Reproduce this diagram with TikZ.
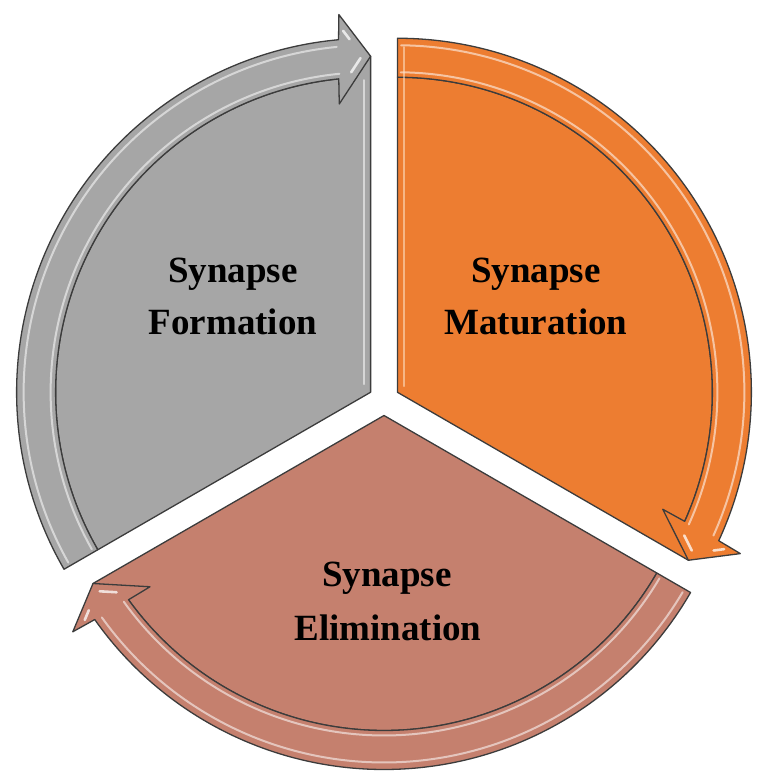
\documentclass[tikz,border=0pt]{standalone}
\usepackage{fontspec}
\setmainfont{Liberation Serif}
\usetikzlibrary{calc}
\definecolor{cgray}{HTML}{A6A6A6}
\definecolor{corange}{HTML}{ED7D31}
\definecolor{cpink}{HTML}{C5806E}
\definecolor{cedge}{HTML}{3C3C3C}
\tikzset{
  piece/.style={draw=cedge, line width=1.3pt, line join=round},
  gloss/.style={draw=white, line width=2pt, opacity=0.55, line cap=round},
  glint/.style={draw=white, line width=2.6pt, opacity=0.75, line cap=round},
  labeltext/.style={font=\fontsize{37}{44}\selectfont\bfseries, text=black, anchor=base, inner sep=0pt},
}
% #1 apex, #2 start angle, #3 tip angle, #4 colour
\newcommand\cyclepiece[4]{%
  \begin{scope}[shift={(#1)}]
    \pgfmathsetmacro\bo{#3+5.2}
    \pgfmathsetmacro\bi{#3+5.8}
    \pgfmathsetmacro\wo{#3+4.8}
    \pgfmathsetmacro\wi{#3+6.2}
    \pgfmathsetmacro\gs{#2-0.6}
    \pgfmathsetmacro\ge{#3+5.6}
    \coordinate (T) at (#3:336pt);
    \coordinate (WO) at (\wo:379pt);
    \coordinate (WI) at (\wi:290pt);
    % sector
    \draw[piece, fill=#4] (0,0) -- (#2:315pt)
      arc[start angle=#2, end angle=\bi, radius=315pt] -- (T) -- cycle;
    % arrow band
    \draw[piece, fill=#4] (#2:354pt)
      arc[start angle=#2, end angle=\bo, radius=354pt] -- (WO) -- (T) -- (WI)
      -- (\bi:315pt) arc[start angle=\bi, end angle=#2, radius=315pt] -- cycle;
    % bevel highlights
    \draw[gloss] (\gs:347pt) arc[start angle=\gs, end angle=\ge, radius=347pt];
    \draw[gloss] (\gs:320pt) arc[start angle=\gs, end angle=\ge, radius=320pt];
    \draw[glint] ($($(T)!.2!(WI)$)!.15!(WO)$) -- ($($(T)!.55!(WI)$)!.15!(WO)$);
    \draw[glint] ($($(WO)!.15!(T)$)!.12!(WI)$) -- ($($(WO)!.38!(T)$)!.12!(WI)$);
  \end{scope}}
\begin{document}
\begin{tikzpicture}[x=1pt, y=1pt]
  \useasboundingbox (0,0) rectangle (770,782);
  \coordinate (G) at (370.6,389.75);
  \coordinate (O) at (397.4,389.75);
  \coordinate (P) at (384,366.5);
  \cyclepiece{G}{210}{90}{cgray}
  \cyclepiece{O}{90}{-30}{corange}
  \cyclepiece{P}{330}{210}{cpink}
  % straight-edge highlights
  \draw[gloss] ($(G)+(-7,8)$) -- ($(G)+(-7,312)$);
  \draw[gloss, draw=orange!20] ($(O)+(7,6)$) -- ($(O)+(7,345)$);
  % labels
  \node[labeltext] (s1) at (233,499) {Synapse};
  \node[labeltext] (f1) at (233,447) {Formation};
  \node[labeltext] (s2) at (536,499) {Synapse};
  \node[labeltext] (m2) at (536,447) {Maturation};
  \node[labeltext] (s3) at (387,195) {Synapse};
  \node[labeltext] (e3) at (388,141) {Elimination};
\end{tikzpicture}
\end{document}
